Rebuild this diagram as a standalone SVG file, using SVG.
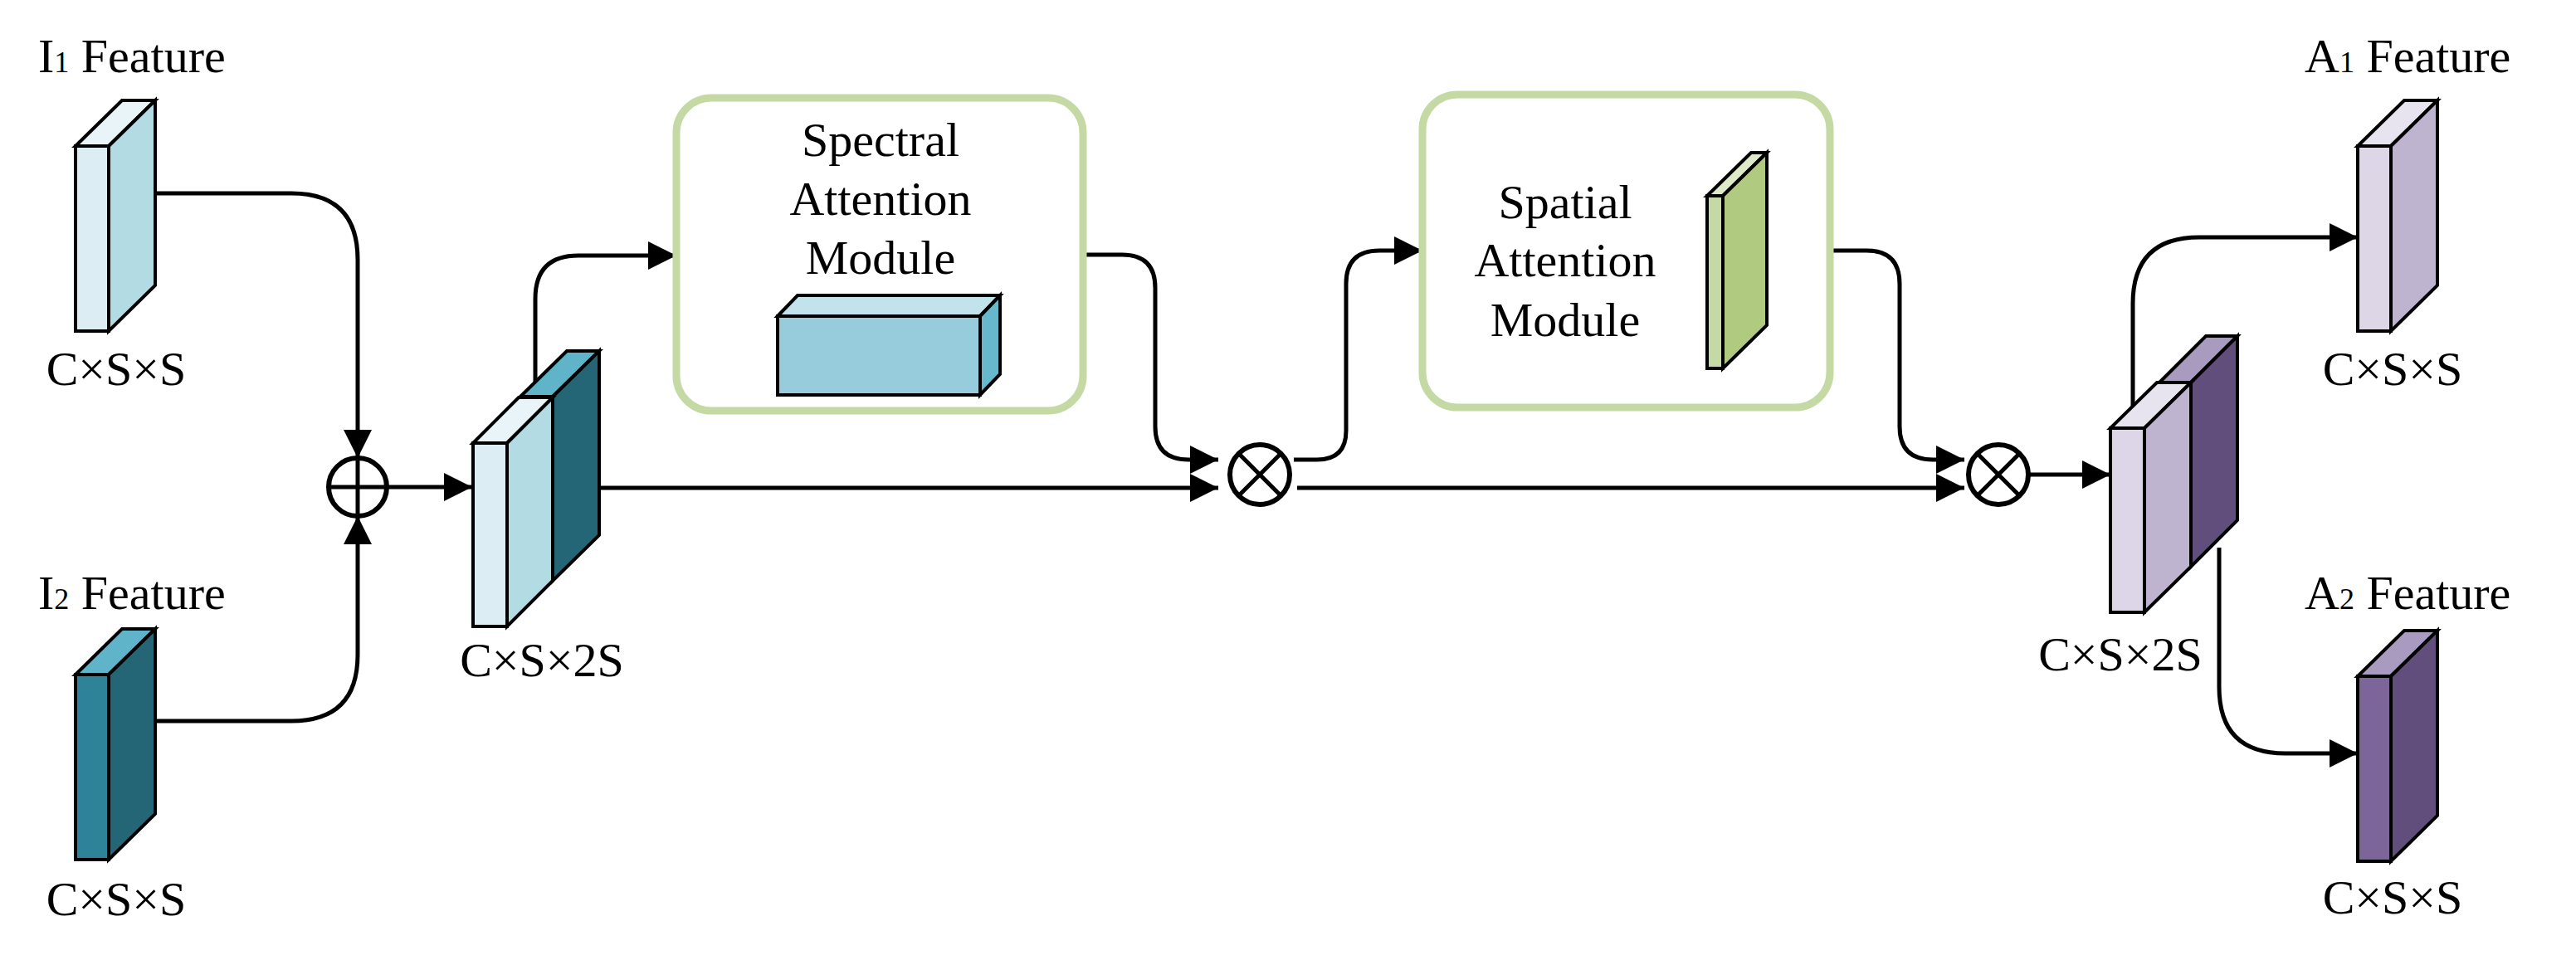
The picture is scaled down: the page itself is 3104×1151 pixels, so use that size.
<svg xmlns="http://www.w3.org/2000/svg" width="3104" height="1151" viewBox="0 0 3104 1151">
<defs>
<marker id="ah" markerUnits="userSpaceOnUse" markerWidth="34" markerHeight="34" viewBox="0 0 34 34" refX="34" refY="17" orient="auto"><path d="M0,0 L34,17 L0,34 Z" fill="#000"/></marker>
</defs>
<style>
text{font-family:"Liberation Serif","Times New Roman",serif;font-size:58px;fill:#000}
.c{text-anchor:middle}
.f{stroke:#000;stroke-width:4;stroke-linejoin:miter}
.ln{fill:none;stroke:#000;stroke-width:5}
.box{fill:#fff;stroke:#c5d9a5;stroke-width:9}
.op{fill:#fff;stroke:#000;stroke-width:6}
</style>
<rect width="3104" height="1151" fill="#fff"/>

<g id="connectors">
<path class="ln" d="M187,233 H351 Q431,233 431,313 V552" marker-end="url(#ah)"/>
<path class="ln" d="M187,869 H351 Q431,869 431,789 V622" marker-end="url(#ah)"/>
<path class="ln" d="M466,587 H569" marker-end="url(#ah)"/>
<path class="ln" d="M645,479 V360 Q645,308 697,308 H815" marker-end="url(#ah)"/>
<path class="ln" d="M722,588 H1468" marker-end="url(#ah)"/>
<path class="ln" d="M1305,307 H1352 Q1392,307 1392,347 V514 Q1392,554 1432,554 H1468" marker-end="url(#ah)"/>
<path class="ln" d="M1559,554 H1587 Q1622,554 1622,519 V342 Q1622,302 1662,302 H1714" marker-end="url(#ah)"/>
<path class="ln" d="M1563,588 H2367" marker-end="url(#ah)"/>
<path class="ln" d="M2205,302 H2249 Q2289,302 2289,342 V514 Q2289,554 2329,554 H2367" marker-end="url(#ah)"/>
<path class="ln" d="M2445,572 H2543" marker-end="url(#ah)"/>
<path class="ln" d="M2570,490 V366 Q2570,286 2650,286 H2841" marker-end="url(#ah)"/>
<path class="ln" d="M2674,660 V828 Q2674,908 2754,908 H2841" marker-end="url(#ah)"/>
</g>

<g id="i1">
<text x="46" y="87">I<tspan font-size="36">1</tspan> Feature</text>
<path class="f" fill="#e8f4f7" d="M91,176 L147,121 L187,121 L131,176 Z"/>
<rect class="f" x="91" y="176" width="40" height="223" fill="#dceef3"/>
<path class="f" fill="#b2dbe4" d="M131,176 L187,121 L187,344 L131,399 Z"/>
<text class="c" x="140" y="464">C×S×S</text>
</g>

<g id="i2">
<text x="46" y="734">I<tspan font-size="36">2</tspan> Feature</text>
<path class="f" fill="#5fb4c9" d="M91,813 L147,758 L187,758 L131,813 Z"/>
<rect class="f" x="91" y="813" width="40" height="223" fill="#2e8399"/>
<path class="f" fill="#246676" d="M131,813 L187,758 L187,981 L131,1036 Z"/>
<text class="c" x="140" y="1103">C×S×S</text>
</g>

<g id="add">
<circle class="op" cx="431" cy="587" r="35"/>
<path d="M396,587 H466 M431,552 V622" stroke="#000" stroke-width="5"/>
</g>

<g id="concat1">
<path class="f" fill="#5fb4c9" d="M627,478 L683,423 L722,423 L666,478 Z"/>
<path class="f" fill="#246676" d="M666,478 L722,423 L722,645 L666,700 Z"/>
<path class="f" fill="#e8f4f7" d="M570,534 L625,479 L666,479 L611,534 Z"/>
<rect class="f" x="570" y="534" width="41" height="221" fill="#dceef3"/>
<path class="f" fill="#b2dbe4" d="M611,534 L666,479 L666,700 L611,755 Z"/>
<text class="c" x="653" y="815">C×S×2S</text>
</g>

<g id="spectral">
<rect class="box" x="815" y="118" width="490" height="377" rx="42"/>
<text class="c" x="1061" y="188" font-size="60">Spectral</text>
<text class="c" x="1061" y="259" font-size="60">Attention</text>
<text class="c" x="1061" y="330" font-size="60">Module</text>
<path class="f" fill="#c2e3ec" d="M937,381 L961,356 L1205,356 L1181,381 Z"/>
<rect class="f" x="937" y="381" width="244" height="95" fill="#96ccdc"/>
<path class="f" fill="#67b8cc" d="M1181,381 L1205,356 L1205,451 L1181,476 Z"/>
</g>

<g id="mul1">
<circle class="op" cx="1518" cy="572" r="36"/>
<path d="M1493,547 L1543,597 M1543,547 L1493,597" stroke="#000" stroke-width="5"/>
</g>

<g id="spatial">
<rect class="box" x="1714" y="114" width="491" height="377" rx="42"/>
<text class="c" x="1886" y="263" font-size="60">Spatial</text>
<text class="c" x="1886" y="333" font-size="60">Attention</text>
<text class="c" x="1886" y="405" font-size="60">Module</text>
<path class="f" fill="#dde9c8" d="M2057,236 L2110,184 L2129,184 L2076,236 Z"/>
<rect class="f" x="2057" y="236" width="19" height="208" fill="#c5d9a5"/>
<path class="f" fill="#b0cb80" d="M2076,236 L2129,184 L2129,392 L2076,444 Z"/>
</g>

<g id="mul2">
<circle class="op" cx="2408" cy="572" r="36"/>
<path d="M2383,547 L2433,597 M2433,547 L2383,597" stroke="#000" stroke-width="5"/>
</g>

<g id="concat2">
<path class="f" fill="#a99bc0" d="M2602,461 L2658,405 L2696,405 L2640,461 Z"/>
<path class="f" fill="#624e7c" d="M2640,461 L2696,405 L2696,627 L2640,683 Z"/>
<path class="f" fill="#e8e4ef" d="M2543,516 L2599,461 L2640,461 L2584,516 Z"/>
<rect class="f" x="2543" y="516" width="41" height="222" fill="#dcd6e6"/>
<path class="f" fill="#beb4cf" d="M2584,516 L2640,461 L2640,683 L2584,738 Z"/>
<text class="c" x="2555" y="808">C×S×2S</text>
</g>

<g id="a1">
<text x="2777" y="87">A<tspan font-size="36">1</tspan> Feature</text>
<path class="f" fill="#e8e4ef" d="M2841,176 L2897,121 L2937,121 L2881,176 Z"/>
<rect class="f" x="2841" y="176" width="40" height="223" fill="#dcd6e6"/>
<path class="f" fill="#beb4cf" d="M2881,176 L2937,121 L2937,344 L2881,399 Z"/>
<text class="c" x="2883" y="464">C×S×S</text>
</g>

<g id="a2">
<text x="2777" y="734">A<tspan font-size="36">2</tspan> Feature</text>
<path class="f" fill="#a99bc0" d="M2841,815 L2897,760 L2937,760 L2881,815 Z"/>
<rect class="f" x="2841" y="815" width="40" height="223" fill="#7b6599"/>
<path class="f" fill="#624e7c" d="M2881,815 L2937,760 L2937,983 L2881,1038 Z"/>
<text class="c" x="2883" y="1101">C×S×S</text>
</g>
</svg>
